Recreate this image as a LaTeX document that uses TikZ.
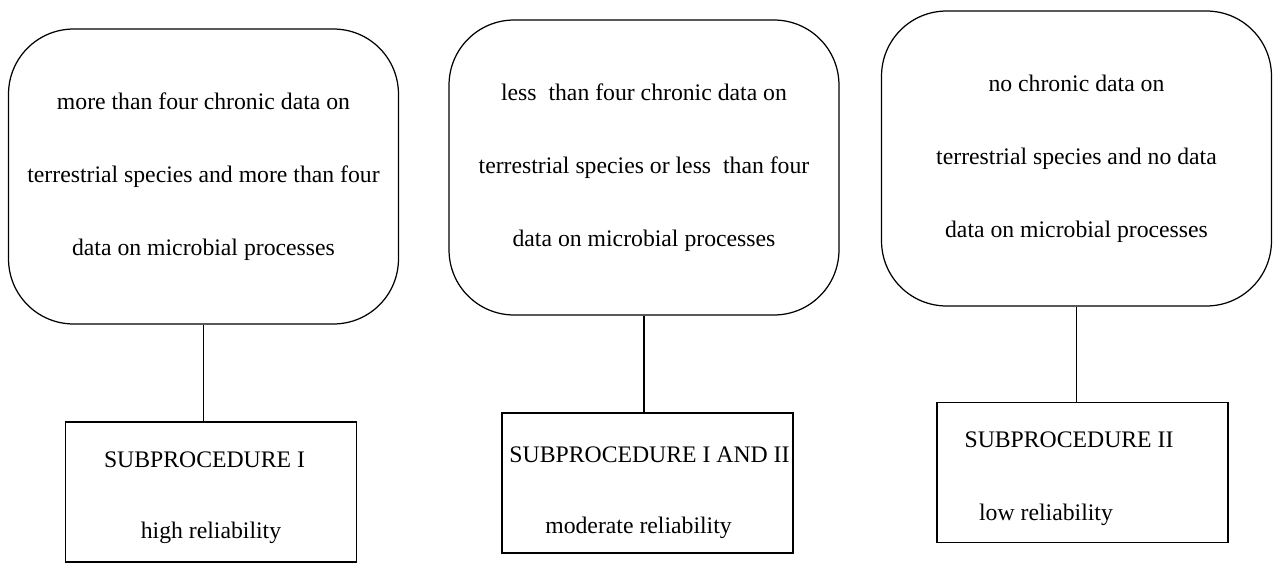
\documentclass[tikz,border=0pt]{standalone}
\usepackage{fontspec}
\setmainfont{Liberation Serif}
\usepackage{tikz}

\begin{document}
\begin{tikzpicture}[x=0.02cm, y=-0.02cm,
        critbox/.style={draw, line width=0.7pt, rounded corners=1.3cm, minimum width=7.8cm, minimum height=5.9cm, align=center, font=\fontsize{13.5}{41.5}\selectfont},
        subbox/.style={draw, line width=0.7pt, rectangle, minimum width=5.82cm, minimum height=2.8cm},
        lbl/.style={font=\fontsize{13.5}{16}\selectfont, inner sep=0pt}]
        \useasboundingbox (0,0) rectangle (1275,565);

        % Criteria
        \node[critbox] (crit1) at (203.5,176.5) {more than four chronic data on\\terrestrial species and more than four\\data on microbial processes};
        \node[critbox] (crit2) at (644,167.5) {less\ \ than four chronic data on\\terrestrial species or less\ \ than four\\data on microbial processes};
        \node[critbox] (crit3) at (1076.5,158.5) {no chronic data on\\terrestrial species and no data\\data on microbial processes};

        % Subprocedures
        \node[subbox] (sub1) at (211,492) {};
        \node[subbox] (sub2) at (647.5,483) {};
        \node[subbox] (sub3) at (1082.5,472.5) {};

        % Links
        \draw[line width=0.7pt] (crit1.south) -- (crit1.south |- sub1.north);
        \draw[line width=0.7pt] (crit2.south) -- (crit2.south |- sub2.north);
        \draw[line width=0.7pt] (crit3.south) -- (crit3.south |- sub3.north);

        % Labels
        \node[lbl] (name1) at (204.5,460) {SUBPROCEDURE I};
        \node[lbl] (rel1) at (211,533) {high reliability};
        \node[lbl] (name2) at (649.5,455) {SUBPROCEDURE I AND II};
        \node[lbl] (rel2) at (638.5,528) {moderate reliability};
        \node[lbl] (name3) at (1069,440) {SUBPROCEDURE II};
        \node[lbl] (rel3) at (1046,515) {low reliability};
    \end{tikzpicture}
\end{document}
